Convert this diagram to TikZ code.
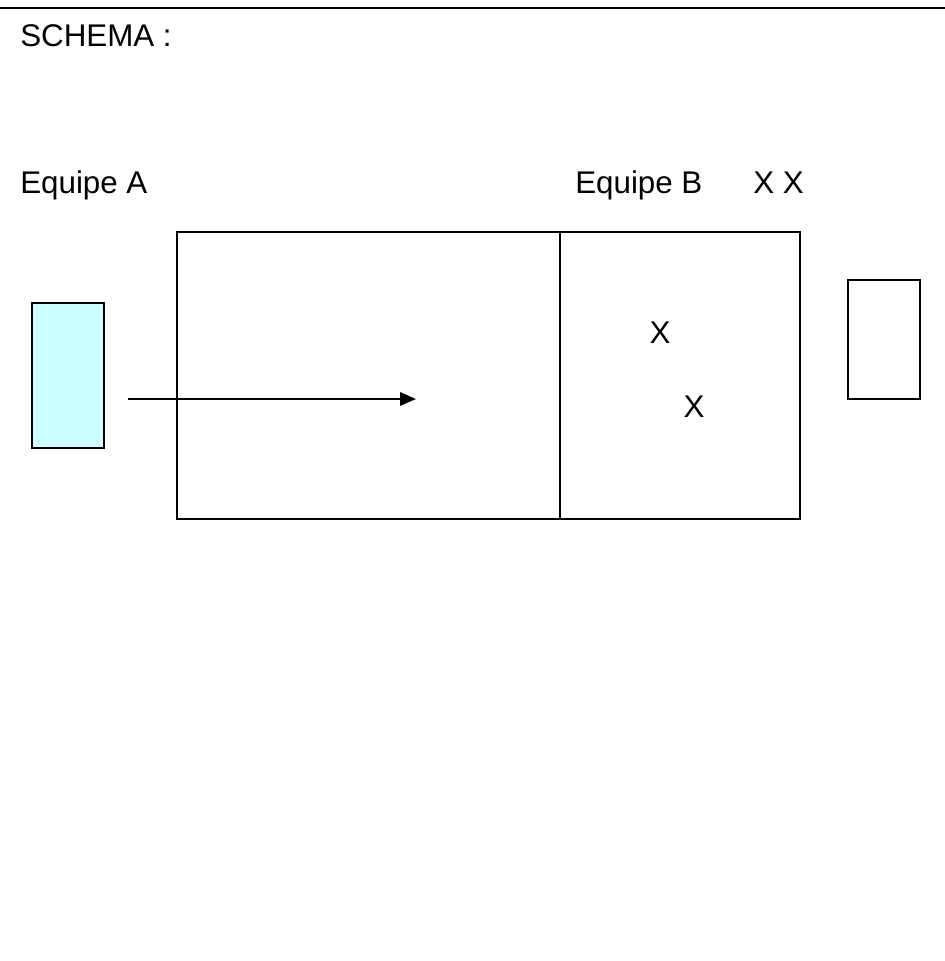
\documentclass[tikz,border=0pt]{standalone}
\usepackage{fontspec}
\setmainfont{Liberation Sans}
\usetikzlibrary{arrows.meta}
\begin{document}
\begin{tikzpicture}[x=0.75pt,y=-0.75pt,
  box/.style={draw=black,line width=1.1pt,inner sep=0pt,outer sep=0pt},
  lbl/.style={anchor=base west,inner sep=0pt,font=\fontsize{23.5}{28}\selectfont},
  xlbl/.style={anchor=base,inner sep=0pt,font=\fontsize{23.5}{28}\selectfont}]
\useasboundingbox (0,0) rectangle (945,961);
\draw[line width=1.5pt] (0,8) -- (945,8);
\node[lbl] (schema) at (20,46) {SCHEMA :};
\node[lbl] (eqa) at (20,193) {Equipe A};
\node[lbl] (eqb) at (575,193) {Equipe B};
\node[lbl] (xx) at (753,193) {X X};
% field
\node[box,minimum width=623*0.75pt,minimum height=287*0.75pt,anchor=north west] (field) at (177,232) {};
\draw[line width=1.1pt] (560,232) coordinate (divtop) -- (560,519) coordinate (divbot);
% goals
\node[box,fill={rgb,255:red,204;green,255;blue,255},minimum width=72*0.75pt,minimum height=145*0.75pt,anchor=north west] (goalA) at (32,303) {};
\node[box,minimum width=72*0.75pt,minimum height=119*0.75pt,anchor=north west] (goalB) at (848,280) {};
% players
\node[xlbl] (x1) at (660,343) {X};
\node[xlbl] (x2) at (694,417) {X};
% arrow
\coordinate (as) at (128,399);
\coordinate (ae) at (416,399);
\draw[line width=1.5pt,-{Triangle[length=12pt,width=10pt]}] (as) -- (ae);
\end{tikzpicture}
\end{document}
